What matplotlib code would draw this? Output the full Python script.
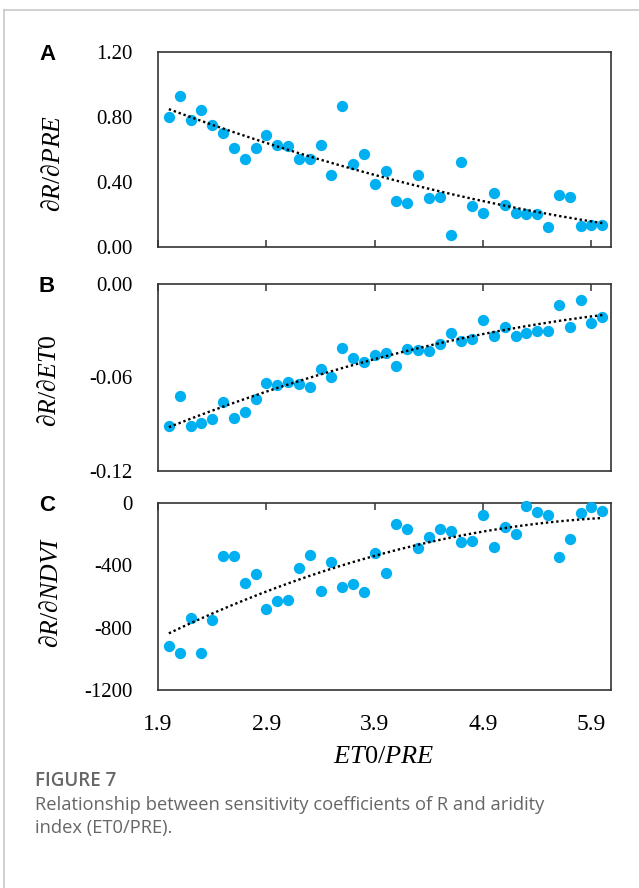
import numpy as np
import matplotlib
matplotlib.use("Agg")
import matplotlib.pyplot as plt
from matplotlib.lines import Line2D

plt.rcParams['mathtext.fontset'] = 'custom'
plt.rcParams['mathtext.rm'] = 'Liberation Serif'
plt.rcParams['mathtext.it'] = 'Liberation Serif:italic'
plt.rcParams['axes.unicode_minus'] = False

# ---------------- data ----------------
aridity = [2.0, 2.1, 2.2, 2.3, 2.4, 2.5, 2.6, 2.7, 2.8, 2.9,
           3.0, 3.1, 3.2, 3.3, 3.4, 3.5, 3.6, 3.7, 3.8, 3.9,
           4.0, 4.1, 4.2, 4.3, 4.4, 4.5, 4.6, 4.7, 4.8, 4.9,
           5.0, 5.1, 5.2, 5.3, 5.4, 5.5, 5.6, 5.7, 5.8, 5.9, 6.0]

dR_dPRE = [0.80, 0.93, 0.78, 0.84, 0.75, 0.70, 0.61, 0.54, 0.61, 0.69,
           0.63, 0.62, 0.54, 0.54, 0.63, 0.44, 0.87, 0.51, 0.575, 0.39,
           0.47, 0.285, 0.27, 0.44, 0.30, 0.31, 0.076, 0.52, 0.25, 0.21,
           0.33, 0.26, 0.21, 0.205, 0.20, 0.12, 0.32, 0.31, 0.13, 0.135, 0.135]

dR_dET0 = [-0.091, -0.072, -0.091, -0.089, -0.0865, -0.076, -0.086, -0.082, -0.074, -0.0634,
           -0.0647, -0.0628, -0.0643, -0.0658, -0.0547, -0.0594, -0.0408, -0.0472, -0.0498, -0.0455,
           -0.044, -0.0525, -0.0416, -0.0423, -0.0427, -0.0386, -0.0314, -0.0367, -0.0352, -0.0231,
           -0.0335, -0.0278, -0.0335, -0.0314, -0.0301, -0.0301, -0.0135, -0.0273, -0.0105, -0.0252, -0.0209]

dR_dNDVI = [-915, -962, -736, -962, -749, -343, -343, -515, -457, -681,
            -632, -621, -415, -334, -564, -377, -536, -521, -574, -319,
            -447, -132, -170, -287, -217, -164, -179, -249, -245, -74,
            -281, -153, -200, -21, -57, -74, -349, -228, -62, -26, -49]

x_ticks = [1.9, 2.9, 3.9, 4.9, 5.9]
x_ticklabels = ["1.9", "2.9", "3.9", "4.9", "5.9"]

yticks_A = [0.0, 0.4, 0.8, 1.2]
ylabels_A = ["0.00", "0.40", "0.80", "1.20"]
yticks_B = [-0.12, -0.06, 0.0]
ylabels_B = ["-0.12", "-0.06", "0.00"]
yticks_C = [-1200, -800, -400, 0]
ylabels_C = ["-1200", "-800", "-400", "0"]

# ---------------- figure ----------------
W, H = 639, 888
fig = plt.figure(figsize=(W / 100, H / 100), dpi=100)


def rect(l, t, r, b):
    return [l / W, 1 - b / H, (r - l) / W, (b - t) / H]


def fxy(x, y):
    return x / W, 1 - y / H


BLUE = "#00B0F0"
SERIF = ["Liberation Serif", "DejaVu Serif"]

panels = [
    dict(y=dR_dPRE, ylim=(0, 1.2), yt=yticks_A, yl=ylabels_A,
         lab=r"$\partial R/\partial PRE$", letter="A", box=(158, 52, 611, 247),
         top_axis=False, lab_xy=(53, 163), letter_xy=(48, 55), xlabels=False),
    dict(y=dR_dET0, ylim=(-0.12, 0), yt=yticks_B, yl=ylabels_B,
         lab=r"$\partial R/\partial ET0$", letter="B", box=(158, 284, 611, 471),
         top_axis=True, lab_xy=(50, 381), letter_xy=(47, 287), xlabels=False),
    dict(y=dR_dNDVI, ylim=(-1200, 0), yt=yticks_C, yl=ylabels_C,
         lab=r"$\partial R/\partial NDVI$", letter="C", box=(158, 503, 611, 690),
         top_axis=True, lab_xy=(51, 592), letter_xy=(47, 505), xlabels=True),
]

x = np.array(aridity)
for p in panels:
    ax = fig.add_axes(rect(*p["box"]))
    y = np.array(p["y"])
    ax.scatter(x, y, s=66, color=BLUE, linewidths=0, zorder=3, clip_on=False)
    coef = np.polyfit(x, y, 2)
    xs = np.linspace(x.min(), x.max(), 200)
    ax.plot(xs, np.polyval(coef, xs), color="black", lw=1.7,
            linestyle=(0, (1, 1.2)), zorder=4)
    ax.set_xlim(1.9, 6.08)
    ax.set_ylim(*p["ylim"])
    ax.set_yticks(p["yt"])
    ax.set_yticklabels(p["yl"], fontfamily=SERIF, fontsize=15)
    ax.set_xticks(x_ticks)
    ax.set_xticklabels(x_ticklabels, fontfamily=SERIF, fontsize=17)
    ax.tick_params(axis="y", length=0, pad=18.5)
    if p["top_axis"]:
        ax.tick_params(axis="x", direction="in", top=True, bottom=False,
                       length=5, width=1.1, color="#333333",
                       labelbottom=p["xlabels"], labeltop=False, pad=17)
    else:
        ax.tick_params(axis="x", direction="in", top=False, bottom=True,
                       length=5, width=1.1, color="#333333",
                       labelbottom=False)
    for s in ax.spines.values():
        s.set_linewidth(1.2)
        s.set_color("#333333")
    fig.text(*fxy(*p["lab_xy"]), p["lab"], rotation=90, ha="center", va="center",
             fontsize=18.5, fontfamily=SERIF)
    fig.text(*fxy(*p["letter_xy"]), p["letter"], ha="center", va="center",
             fontsize=16, fontweight="bold", fontfamily=["Liberation Sans", "DejaVu Sans"])

fig.text(*fxy(384, 757), r"$ET$0/$PRE$", ha="center", va="center",
         fontsize=19, fontfamily=SERIF)

# caption
CAP = ["Open Sans", "DejaVu Sans"]
fig.text(*fxy(35, 781), "FIGURE 7", ha="left", va="center", fontsize=13.5,
         color="#666666", fontweight="semibold", fontfamily=CAP)
fig.text(*fxy(35, 805), "Relationship between sensitivity coefficients of R and aridity",
         ha="left", va="center", fontsize=13.2, color="#666666", fontfamily=CAP)
fig.text(*fxy(35, 828), "index (ET0/PRE).", ha="left", va="center", fontsize=13.2,
         color="#666666", fontfamily=CAP)

# card frame
fig.add_artist(Line2D([4 / W, 1], [1 - 10 / H, 1 - 10 / H], transform=fig.transFigure,
                      color="#c8c8c8", lw=1.2))
fig.add_artist(Line2D([4 / W, 4 / W], [0, 1 - 10 / H], transform=fig.transFigure,
                      color="#c8c8c8", lw=1.2))

fig.savefig("out.png", dpi=100)
